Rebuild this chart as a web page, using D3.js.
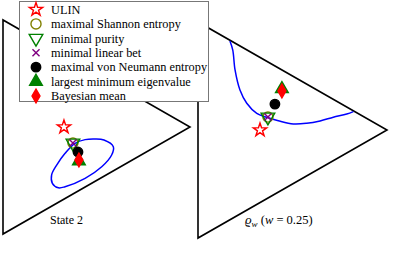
<!DOCTYPE html>
<html>
<head>
<meta charset="utf-8">
<script src="https://cdn.jsdelivr.net/npm/d3@7"></script>
<style>
  body { margin: 0; background: #fff; }
</style>
</head>
<body>
<svg id="chart" width="395" height="264"></svg>
<script>
// triangle corners in panel coords (x right, y up)
const triangle = [[0, 0], [0, 1], [1, 0.5]];

const panelNames = ['State 2', 'rho_w'];

const estimators = ['ULIN', 'maximal Shannon entropy', 'minimal purity', 'minimal linear bet',
  'maximal von Neumann entropy', 'largest minimum eigenvalue', 'Bayesian mean'];

// estimator positions per panel, same order as estimators
const leftX = [0.326, 0.374, 0.374, 0.374, 0.401, 0.406, 0.406];
const leftY = [0.500, 0.425, 0.425, 0.425, 0.383, 0.340, 0.346];
const rightX = [0.328, 0.370, 0.370, 0.370, 0.407, 0.444, 0.444];
const rightY = [0.500, 0.560, 0.560, 0.560, 0.620, 0.690, 0.681];

// blue boundary, left panel (closed)
const leftCurveX = [0.492, 0.540, 0.590, 0.581, 0.528, 0.439, 0.332, 0.296, 0.264, 0.260, 0.287, 0.332, 0.385, 0.439];
const leftCurveY = [0.444, 0.439, 0.408, 0.369, 0.314, 0.260, 0.221, 0.216, 0.237, 0.276, 0.322, 0.377, 0.424, 0.441];
// blue boundary, right panel (open)
const rightCurveX = [0.169, 0.184, 0.196, 0.222, 0.258, 0.311, 0.363, 0.425, 0.504, 0.575, 0.646, 0.716, 0.787, 0.822];
const rightCurveY = [0.912, 0.870, 0.778, 0.685, 0.624, 0.577, 0.559, 0.543, 0.528, 0.531, 0.542, 0.559, 0.574, 0.585];

const FONT = "'Liberation Serif', 'DejaVu Serif', serif";
const svg = d3.select('#chart');

const markerStyle = [
  {type: d3.symbolStar, size: 55, fill: 'none', stroke: '#ff0000', rot: 0},
  {type: d3.symbolCircle, size: 80, fill: 'none', stroke: '#808000', rot: 0},
  {type: d3.symbolTriangle, size: 80, fill: 'none', stroke: '#008000', rot: 180},
  {type: d3.symbolTimes, size: 34, fill: 'none', stroke: '#800080', rot: 0},
  {type: d3.symbolCircle, size: 70, fill: '#000', stroke: '#000', rot: 0},
  {type: d3.symbolTriangle, size: 70, fill: '#008000', stroke: '#008000', rot: 0},
  {type: d3.symbolDiamond, size: 55, fill: '#ff0000', stroke: '#ff0000', rot: 0}
];

function drawMarker(g, i, x, y) {
  const m = markerStyle[i];
  g.append('path')
    .attr('d', d3.symbol().type(m.type).size(m.size)())
    .attr('transform', 'translate(' + x + ',' + y + ') rotate(' + m.rot + ')')
    .attr('fill', m.fill)
    .attr('stroke', m.stroke)
    .attr('stroke-width', 1.4);
}

function drawPanel(opts) {
  const x = d3.scaleLinear().domain([0, 1]).range(opts.xr);
  const y = d3.scaleLinear().domain([0, 1]).range(opts.yr);
  const g = svg.append('g');

  g.append('path')
    .attr('d', d3.line().x(d => x(d[0])).y(d => y(d[1])).curve(d3.curveLinearClosed)(triangle))
    .attr('fill', 'none')
    .attr('stroke', '#000')
    .attr('stroke-width', 1.6);

  const pts = d3.zip(opts.cx, opts.cy);
  g.append('path')
    .attr('d', d3.line().x(d => x(d[0])).y(d => y(d[1])).curve(opts.curve)(pts))
    .attr('fill', 'none')
    .attr('stroke', '#0000ff')
    .attr('stroke-width', 1.5);

  opts.mx.forEach((v, i) => drawMarker(g, i, x(v), y(opts.my[i])));

  opts.label(g.append('text').attr('x', opts.lx).attr('y', opts.ly)
    .attr('font-family', FONT).attr('font-size', 12));
}

drawPanel({
  xr: [3, 190], yr: [234, 20],
  cx: leftCurveX, cy: leftCurveY, curve: d3.curveCatmullRomClosed,
  mx: leftX, my: leftY, lx: 50, ly: 224,
  label: t => t.text(panelNames[0])
});

drawPanel({
  xr: [198, 387], yr: [238, 22],
  cx: rightCurveX, cy: rightCurveY, curve: d3.curveCatmullRom,
  mx: rightX, my: rightY, lx: 245, ly: 224,
  label: t => {
    t.append('tspan').attr('font-style', 'italic').attr('font-size', 13).text('ϱ');
    t.append('tspan').attr('font-style', 'italic').attr('font-size', 9).attr('dy', 2.5).text('w');
    t.append('tspan').attr('dy', -2.5).attr('font-size', 12.5).text(' (');
    t.append('tspan').attr('font-style', 'italic').attr('font-size', 12.5).text('w');
    t.append('tspan').attr('font-size', 12.5).text(' = 0.25)');
  }
});

// legend
const legend = svg.append('g');
legend.append('rect')
  .attr('x', 19.5).attr('y', 1.5).attr('width', 189).attr('height', 100)
  .attr('fill', '#fff').attr('stroke', '#777').attr('stroke-width', 1);

const rowY = d3.scaleLinear().domain([0, estimators.length - 1]).range([9.5, 96]);
estimators.forEach((name, i) => {
  drawMarker(legend, i, 36, rowY(i));
  legend.append('text')
    .attr('x', 51).attr('y', rowY(i) + 4.2)
    .attr('font-family', FONT)
    .attr('font-size', 12.3)
    .text(name);
});
</script>
</body>
</html>
